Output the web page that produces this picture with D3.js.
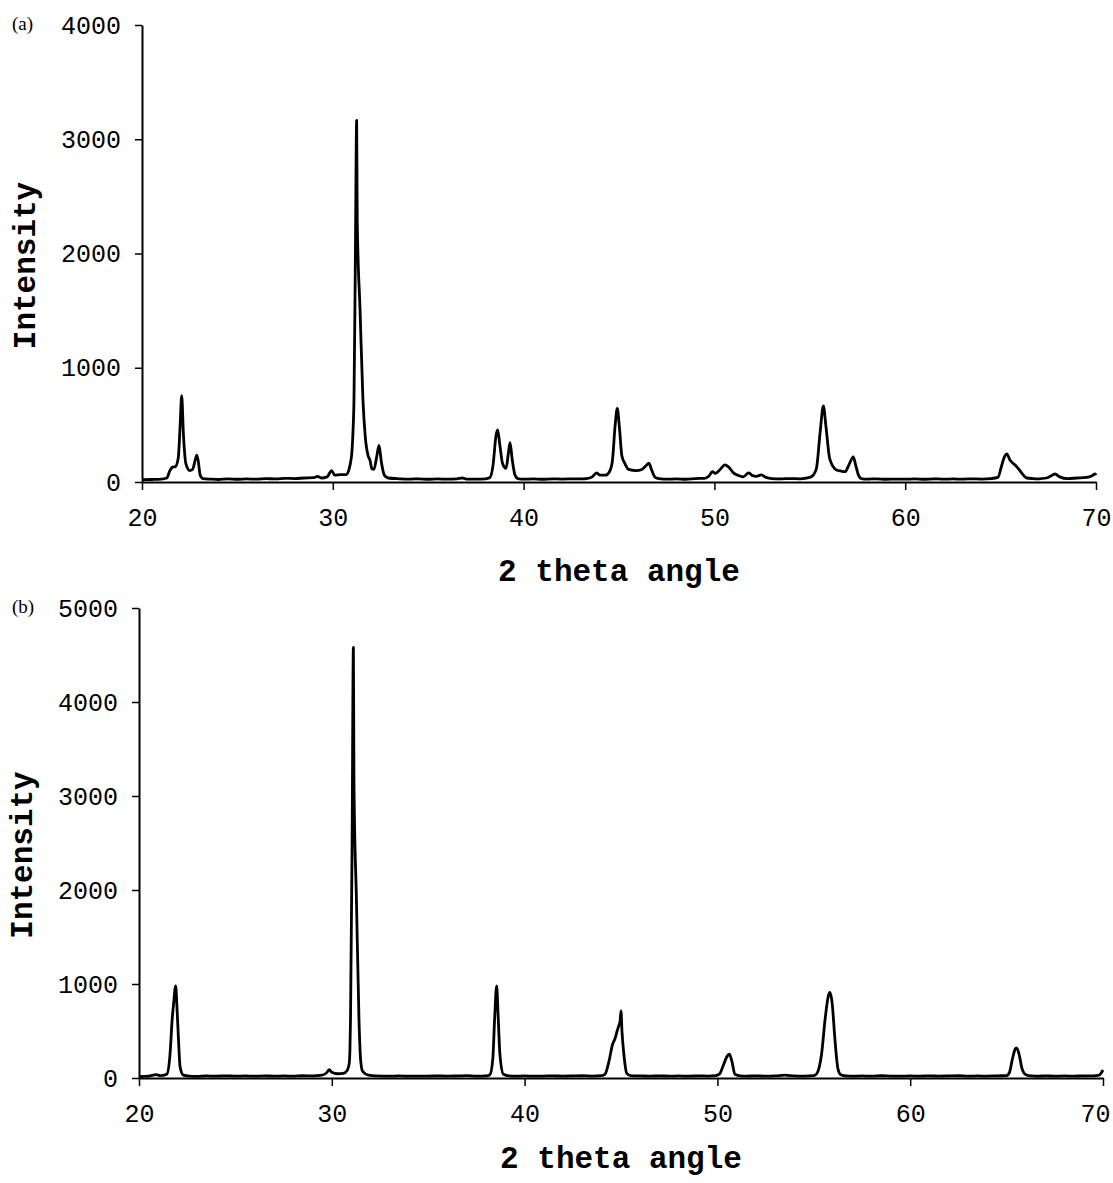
<!DOCTYPE html>
<html>
<head>
<meta charset="utf-8">
<script src="https://cdn.jsdelivr.net/npm/d3@7"></script>
<style>
  body { margin: 0; background: #fff; }
  svg { display: block; }
  .tick text { font-family: "Liberation Mono", "Courier New", monospace; font-size: 25px; fill: #000; }
  .title { font-family: "Liberation Mono", "Courier New", monospace; font-size: 31px; font-weight: bold; fill: #000; }
  .tag { font-family: "Liberation Serif", "Times New Roman", serif; font-size: 19px; fill: #000; }
</style>
</head>
<body>
<div id="chart"></div>
<script>
// tick labels
const xTicks = [20, 30, 40, 50, 60, 70];
const yTicksA = [0, 1000, 2000, 3000, 4000];
const yTicksB = [0, 1000, 2000, 3000, 4000, 5000];

// panel (a): 2 theta angle and intensity
const thetaA = [20.0, 20.5, 21.0, 21.3, 21.45, 21.6, 21.75, 21.9, 22.0, 22.08, 22.17, 22.3, 22.5, 22.65, 22.8, 22.87, 22.95, 23.05, 23.2, 23.6,
  24.0, 24.5, 25.0, 25.5, 26.0, 26.5, 27.0, 27.5, 28.0, 28.5, 29.0, 29.2, 29.4, 29.7, 29.94, 30.1, 30.4, 30.7, 30.85, 30.95,
  31.0, 31.06, 31.11, 31.18, 31.25, 31.28, 31.43, 31.58, 31.7, 31.85, 31.95, 32.05, 32.15, 32.3, 32.42, 32.55, 32.7, 32.9, 33.5, 34.0,
  34.5, 35.0, 35.5, 36.0, 36.5, 36.8, 37.0, 37.5, 38.0, 38.24, 38.4, 38.55, 38.64, 38.75, 38.9, 39.08, 39.2, 39.29, 39.4, 39.55,
  39.7, 40.0, 40.5, 41.0, 41.5, 42.0, 42.5, 43.0, 43.3, 43.6, 43.83, 44.0, 44.3, 44.5, 44.65, 44.8, 44.91, 45.02, 45.15, 45.3,
  45.5, 45.9, 46.2, 46.4, 46.57, 46.7, 46.9, 47.2, 47.5, 48.0, 48.5, 49.0, 49.5, 49.7, 49.9, 50.05, 50.3, 50.55, 50.75, 51.0,
  51.3, 51.5, 51.8, 52.0, 52.2, 52.45, 52.7, 53.0, 53.5, 54.0, 54.5, 55.0, 55.18, 55.35, 55.55, 55.71, 55.85, 56.05, 56.4, 56.65,
  56.85, 57.05, 57.28, 57.4, 57.55, 57.7, 58.0, 58.5, 59.0, 59.5, 60.0, 60.5, 61.0, 61.5, 62.0, 62.5, 63.0, 63.5, 64.0, 64.5,
  64.86, 65.05, 65.2, 65.32, 65.5, 65.84, 66.1, 66.37, 66.7, 67.0, 67.4, 67.6, 67.85, 68.1, 68.5, 69.0, 69.5, 69.8, 69.95, 70.0];
const intensityA = [20, 22, 25, 35, 95, 130, 135, 210, 500, 755, 420, 160, 100, 110, 200, 235, 180, 60, 30, 25,
  22, 28, 24, 27, 25, 30, 27, 32, 30, 35, 38, 50, 35, 45, 100, 60, 65, 65, 110, 190,
  260, 450, 720, 1900, 3165, 2290, 1500, 720, 400, 230, 190, 115, 110, 220, 320, 170, 60, 35, 28, 25,
  28, 24, 27, 25, 28, 35, 26, 25, 28, 40, 150, 400, 455, 330, 160, 120, 250, 345, 200, 60,
  30, 25, 27, 24, 28, 26, 27, 28, 30, 45, 80, 60, 60, 90, 180, 500, 645, 480, 230, 165,
  110, 100, 110, 140, 165, 110, 40, 28, 25, 27, 24, 30, 32, 50, 90, 75, 110, 150, 130, 80,
  55, 45, 80, 55, 50, 62, 40, 30, 28, 30, 28, 40, 60, 120, 450, 665, 480, 200, 105, 95,
  90, 150, 220, 150, 60, 30, 25, 28, 24, 26, 25, 27, 24, 28, 25, 27, 25, 28, 26, 30,
  40, 140, 220, 245, 190, 135, 80, 35, 30, 28, 35, 50, 70, 45, 30, 35, 40, 55, 70, 60];

// panel (b)
const thetaB = [20.0, 20.5, 20.9, 21.1, 21.44, 21.6, 21.73, 21.8, 21.9, 21.97, 22.05, 22.13, 22.3, 22.6, 23.0, 23.5, 24.0, 24.5, 25.0, 25.5,
  26.0, 26.5, 27.0, 27.5, 28.0, 28.5, 29.0, 29.5, 29.75, 29.87, 30.0, 30.3, 30.6, 30.8, 30.9, 30.94, 30.97, 31.05, 31.12, 31.15,
  31.28, 31.41, 31.5, 31.6, 31.9, 32.3, 33.0, 33.5, 34.0, 34.5, 35.0, 35.5, 36.0, 36.5, 37.0, 37.5, 38.0, 38.2, 38.35, 38.45,
  38.55, 38.62, 38.72, 38.9, 39.2, 39.5, 40.0, 40.5, 41.0, 41.5, 42.0, 42.5, 43.0, 43.5, 44.0, 44.17, 44.4, 44.55, 44.69, 44.8,
  44.9, 44.95, 45.0, 45.05, 45.15, 45.3, 45.5, 46.0, 46.5, 47.0, 47.5, 48.0, 48.5, 49.0, 49.5, 49.9, 50.1, 50.3, 50.5, 50.62,
  50.75, 50.91, 51.2, 51.5, 52.0, 52.5, 53.0, 53.5, 54.0, 54.5, 55.0, 55.15, 55.4, 55.6, 55.75, 55.84, 55.95, 56.1, 56.25, 56.4,
  56.7, 57.0, 57.5, 58.0, 58.5, 59.0, 59.5, 60.0, 60.5, 61.0, 61.5, 62.0, 62.5, 63.0, 63.5, 64.0, 64.5, 65.0, 65.15, 65.3,
  65.45, 65.52, 65.65, 65.8, 66.0, 66.3, 66.7, 67.0, 67.5, 68.0, 68.5, 69.0, 69.5, 69.8, 69.93, 70.0];
const intensityB = [15, 20, 35, 25, 40, 230, 650, 800, 980, 750, 400, 120, 30, 20, 18, 22, 20, 23, 20, 22,
  19, 23, 20, 22, 20, 24, 22, 30, 60, 90, 60, 45, 50, 80, 150, 300, 620, 2400, 4580, 3140,
  1880, 620, 180, 70, 30, 22, 20, 22, 19, 21, 20, 23, 20, 22, 25, 20, 22, 35, 200, 650,
  980, 700, 250, 40, 22, 20, 22, 19, 21, 23, 20, 22, 24, 21, 25, 40, 200, 350, 420, 500,
  565, 600, 715, 500, 250, 50, 25, 22, 20, 23, 20, 22, 20, 23, 21, 25, 40, 130, 230, 255,
  180, 40, 22, 20, 23, 20, 22, 30, 22, 20, 25, 45, 250, 650, 870, 910, 800, 400, 100, 35,
  22, 20, 22, 20, 24, 21, 20, 22, 20, 23, 20, 22, 24, 20, 22, 20, 23, 25, 60, 200,
  310, 320, 250, 100, 35, 22, 20, 23, 20, 22, 20, 23, 22, 30, 60, 85];

const svg = d3.select("#chart").append("svg")
  .attr("width", 1113)
  .attr("height", 1183);

function drawPanel(p) {
  const x = d3.scaleLinear().domain([20, 70]).range([p.left, p.right]);
  const y = d3.scaleLinear().domain([0, p.yMax]).range([p.bottom, p.top]);
  const g = svg.append("g");

  const xAxis = g.append("g")
    .attr("transform", `translate(0,${p.bottom})`)
    .call(d3.axisBottom(x).tickValues(xTicks).tickFormat(d3.format("d"))
      .tickSize(8).tickPadding(18).tickSizeOuter(0));
  const yAxis = g.append("g")
    .attr("transform", `translate(${p.left},0)`)
    .call(d3.axisLeft(y).tickValues(p.yTicks).tickFormat(d3.format("d"))
      .tickSize(7).tickPadding(14).tickSizeOuter(0));
  [xAxis, yAxis].forEach(a => {
    a.select(".domain").attr("stroke", "#000").attr("stroke-width", 2);
    a.selectAll(".tick line").attr("stroke", "#000").attr("stroke-width", 1.5);
  });
  // keep the last x label inside the page
  xAxis.selectAll(".tick text").filter(d => d === 70).attr("dx", p.lastDx);

  const pts = p.theta.map((t, i) => [t, p.values[i]]);
  g.append("path")
    .datum(pts)
    .attr("fill", "none")
    .attr("stroke", "#000")
    .attr("stroke-width", 2.8)
    .attr("stroke-linejoin", "round")
    .attr("d", d3.line().x(d => x(d[0])).y(d => y(d[1])).curve(d3.curveMonotoneX));

  g.append("text").attr("class", "title")
    .attr("x", (p.left + p.right) / 2).attr("y", p.bottom + p.titleDy)
    .attr("text-anchor", "middle").text("2 theta angle");
  g.append("text").attr("class", "title")
    .attr("transform", `translate(${p.yTitleX},${(p.top + p.bottom) / 2 + 12}) rotate(-90)`)
    .attr("text-anchor", "middle").text("Intensity");
  g.append("text").attr("class", "tag")
    .attr("x", 12).attr("y", p.top + 5).text(p.tag);
}

drawPanel({ tag: "(a)", left: 142, right: 1096, top: 25, bottom: 482, yMax: 4000, titleDy: 99, lastDx: 0,
  yTicks: yTicksA, yTitleX: 35, theta: thetaA, values: intensityA });
drawPanel({ tag: "(b)", left: 139, right: 1103, top: 608, bottom: 1078, yMax: 5000, titleDy: 90, lastDx: -8,
  yTicks: yTicksB, yTitleX: 32, theta: thetaB, values: intensityB });
</script>
</body>
</html>
